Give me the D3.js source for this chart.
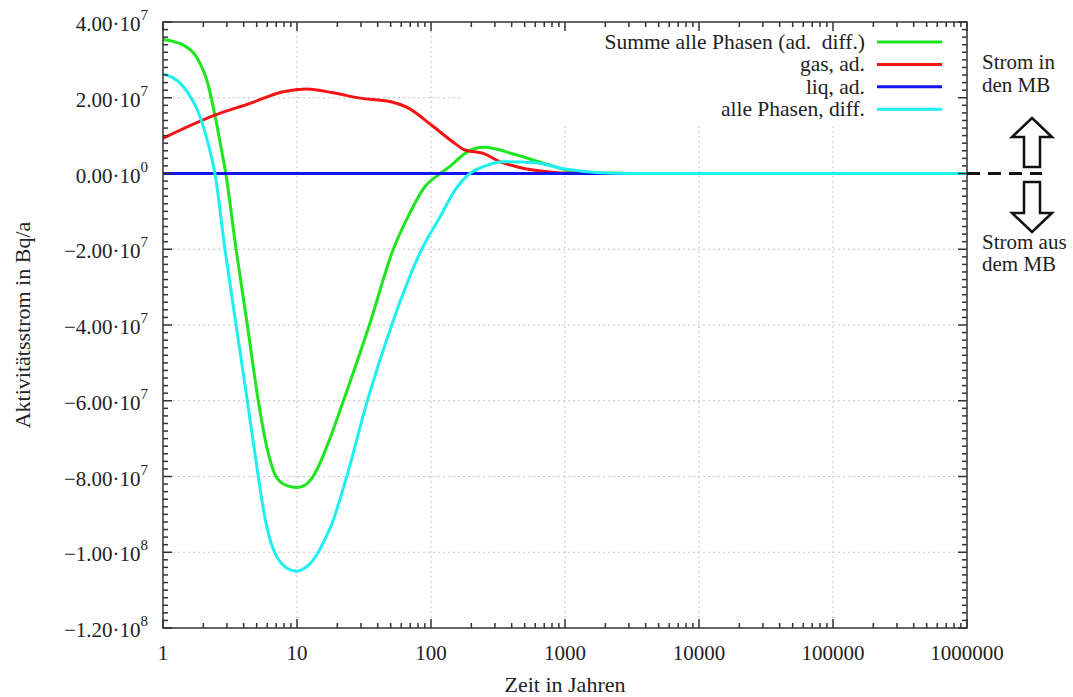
<!DOCTYPE html>
<html>
<head>
<meta charset="utf-8">
<script src="https://cdn.jsdelivr.net/npm/d3@7"></script>
<style>
  body { margin: 0; background: #fff; }
  text { font-family: "Liberation Serif", "DejaVu Serif", serif; fill: #222; }
</style>
</head>
<body>
<svg id="chart" width="1073" height="697"></svg>
<script>
// values in units of 1e7 Bq/a
const sumTime  = [1, 1.42, 1.89, 2.13, 2.44, 2.74, 2.94, 3.51, 4.26, 5.14, 5.94, 6.4, 6.85, 7.47, 8.42, 10, 11.3, 12.9, 14.4, 16.7, 22.2, 34.7, 52.3, 67.4, 90, 117, 140, 173, 205, 246, 436, 773, 1030, 1824, 3000, 1e6];
const sumValue = [3.54, 3.39, 2.91, 2.45, 1.54, 0.6, 0, -2.0, -4.0, -6.0, -7.21, -7.65, -7.95, -8.13, -8.24, -8.29, -8.24, -8.05, -7.75, -7.21, -6.0, -4.0, -2.0, -1.14, -0.35, 0, 0.2, 0.49, 0.64, 0.69, 0.49, 0.22, 0.09, 0.01, 0, 0];

const gasTime  = [1, 2.44, 4.46, 7.9, 11.8, 18.7, 29.5, 49.4, 65.9, 104, 150, 179, 246, 327, 436, 577, 730, 1030, 2000, 1e6];
const gasValue = [0.93, 1.54, 1.85, 2.16, 2.23, 2.13, 1.99, 1.90, 1.75, 1.24, 0.80, 0.62, 0.53, 0.31, 0.18, 0.09, 0.05, 0.01, 0, 0];

const liqTime  = [1, 1e6];
const liqValue = [0, 0];

const diffTime  = [1, 1.42, 1.89, 2.24, 2.44, 2.9, 3.51, 4.26, 5.14, 5.57, 5.97, 6.4, 6.85, 7.47, 8.42, 10, 11.3, 12.9, 14.4, 16.2, 18.2, 23.5, 33.5, 50.9, 85.3, 117, 151, 195, 246, 346, 577, 1030, 1824, 3000, 1e6];
const diffValue = [2.63, 2.29, 1.5, 0.6, 0, -2.0, -4.0, -6.0, -8.0, -8.8, -9.35, -9.75, -10.02, -10.25, -10.42, -10.5, -10.43, -10.25, -10.0, -9.65, -9.25, -8.0, -6.0, -4.0, -2.0, -1.14, -0.44, 0, 0.18, 0.31, 0.29, 0.11, 0.02, 0, 0];

const seriesNames  = ["Summe alle Phasen (ad.  diff.)", "gas, ad.", "liq, ad.", "alle Phasen, diff."];
const seriesColors = ["#1ee61e", "#f41414", "#1414ee", "#1ef0f0"];

const xTickValues = [1, 10, 100, 1000, 10000, 100000, 1000000];
const xTickLabels = ["1", "10", "100", "1000", "10000", "100000", "1000000"];
const yTickValues   = [4e7, 2e7, 0, -2e7, -4e7, -6e7, -8e7, -1e8, -1.2e8];
const yTickMantissa = ["4.00", "2.00", "0.00", "\u22122.00", "\u22124.00", "\u22126.00", "\u22128.00", "\u22121.00", "\u22121.20"];
const yTickExponent = ["7", "7", "0", "7", "7", "7", "7", "8", "8"];

const margin = { top: 22, right: 106, bottom: 69, left: 163 };
const W = 1073, H = 697;

const x = d3.scaleLog().domain([1, 1e6]).range([margin.left, W - margin.right]);
const y = d3.scaleLinear().domain([-1.2e8, 4e7]).range([H - margin.bottom, margin.top]);

const svg = d3.select("#chart");
const x0 = x.range()[0], x1 = x.range()[1];
const y0 = y.range()[0], y1 = y.range()[1];

// grid
const grid = svg.append("g").attr("stroke", "#c4c4c4").attr("stroke-width", 1).attr("stroke-dasharray", "2,3");
xTickValues.slice(1, -1).forEach(v => {
    grid.append("line").attr("x1", x(v)).attr("x2", x(v)).attr("y1", y0).attr("y2", y1);
});
yTickValues.slice(1, -1).forEach(v => {
    grid.append("line").attr("x1", x0).attr("x2", x1).attr("y1", y(v)).attr("y2", y(v));
});

// legend background hides grid behind it
svg.append("rect").attr("x", 460).attr("y", y1 + 1).attr("width", x1 - 461).attr("height", 100).attr("fill", "#fff");

// curves
const line = d3.line().x(d => x(d[0])).y(d => y(d[1] * 1e7)).curve(d3.curveMonotoneX);
const allSeries = [
    d3.zip(sumTime, sumValue),
    d3.zip(gasTime, gasValue),
    d3.zip(liqTime, liqValue),
    d3.zip(diffTime, diffValue)
];
allSeries.forEach((s, i) => {
    svg.append("path").datum(s)
        .attr("d", line)
        .attr("fill", "none")
        .attr("stroke", seriesColors[i])
        .attr("stroke-width", 3);
});

// frame and ticks
const axes = svg.append("g").attr("stroke", "#333").attr("stroke-width", 1.5);
axes.append("rect").attr("x", x0).attr("y", y1).attr("width", x1 - x0).attr("height", y0 - y1).attr("fill", "none");

const xMinor = [];
for (let d = 1; d < 1e6; d *= 10) for (let k = 2; k <= 9; k++) xMinor.push(d * k);
xMinor.forEach(v => {
    axes.append("line").attr("x1", x(v)).attr("x2", x(v)).attr("y1", y0).attr("y2", y0 - 5);
    axes.append("line").attr("x1", x(v)).attr("x2", x(v)).attr("y1", y1).attr("y2", y1 + 5);
});
xTickValues.forEach(v => {
    axes.append("line").attr("x1", x(v)).attr("x2", x(v)).attr("y1", y0).attr("y2", y0 - 9);
    axes.append("line").attr("x1", x(v)).attr("x2", x(v)).attr("y1", y1).attr("y2", y1 + 9);
});
d3.range(-1.2e8, 4e7 + 1, 2e6).forEach(v => {
    const major = Math.abs(v % 2e7) < 1;
    const len = major ? 9 : 5;
    axes.append("line").attr("x1", x0).attr("x2", x0 + len).attr("y1", y(v)).attr("y2", y(v));
    axes.append("line").attr("x1", x1).attr("x2", x1 - len).attr("y1", y(v)).attr("y2", y(v));
});

// tick labels
xTickValues.forEach((v, i) => {
    svg.append("text").attr("x", x(v)).attr("y", y0 + 32)
        .attr("text-anchor", "middle").style("font-size", "21px").text(xTickLabels[i]);
});
yTickValues.forEach((v, i) => {
    const t = svg.append("text").attr("x", x0 - 15).attr("y", y(v) + 9)
        .attr("text-anchor", "end").style("font-size", "21px");
    t.append("tspan").text(yTickMantissa[i] + "\u00b710");
    t.append("tspan").attr("dy", -11).style("font-size", "15px").text(yTickExponent[i]);
});

// axis titles
svg.append("text").attr("transform", `translate(30,${(y0 + y1) / 2}) rotate(-90)`)
    .attr("text-anchor", "middle").style("font-size", "22px").text("Aktivitätsstrom in Bq/a");
svg.append("text").attr("x", 565).attr("y", 692)
    .attr("text-anchor", "middle").style("font-size", "22px").text("Zeit in Jahren");

// legend
seriesNames.forEach((name, i) => {
    const ly = 42 + i * 22.4;
    svg.append("text").attr("x", 865).attr("y", ly + 7).attr("text-anchor", "end")
        .style("font-size", "21.5px").style("white-space", "pre").attr("xml:space", "preserve").text(name);
    svg.append("line").attr("x1", 877).attr("x2", 942).attr("y1", ly).attr("y2", ly)
        .attr("stroke", seriesColors[i]).attr("stroke-width", 3);
});

// annotation on the right
const note = svg.append("g").style("font-size", "21px");
note.append("text").attr("x", 982).attr("y", 69).text("Strom in");
note.append("text").attr("x", 982).attr("y", 92).text("den MB");
note.append("text").attr("x", 982).attr("y", 249).text("Strom aus");
note.append("text").attr("x", 982).attr("y", 271).text("dem MB");

svg.append("line").attr("x1", x1).attr("x2", 1042).attr("y1", y(0)).attr("y2", y(0))
    .attr("stroke", "#111").attr("stroke-width", 3).attr("stroke-dasharray", "13,8");

const arrow = d3.line();
svg.append("path")
    .attr("d", arrow([[1032, 118], [1052, 137], [1040, 137], [1040, 167], [1024, 167], [1024, 137], [1012, 137]]) + "Z")
    .attr("fill", "#fff").attr("stroke", "#111").attr("stroke-width", 2.5);
svg.append("path")
    .attr("d", arrow([[1032, 232], [1052, 213], [1040, 213], [1040, 182], [1024, 182], [1024, 213], [1012, 213]]) + "Z")
    .attr("fill", "#fff").attr("stroke", "#111").attr("stroke-width", 2.5);
</script>
</body>
</html>
